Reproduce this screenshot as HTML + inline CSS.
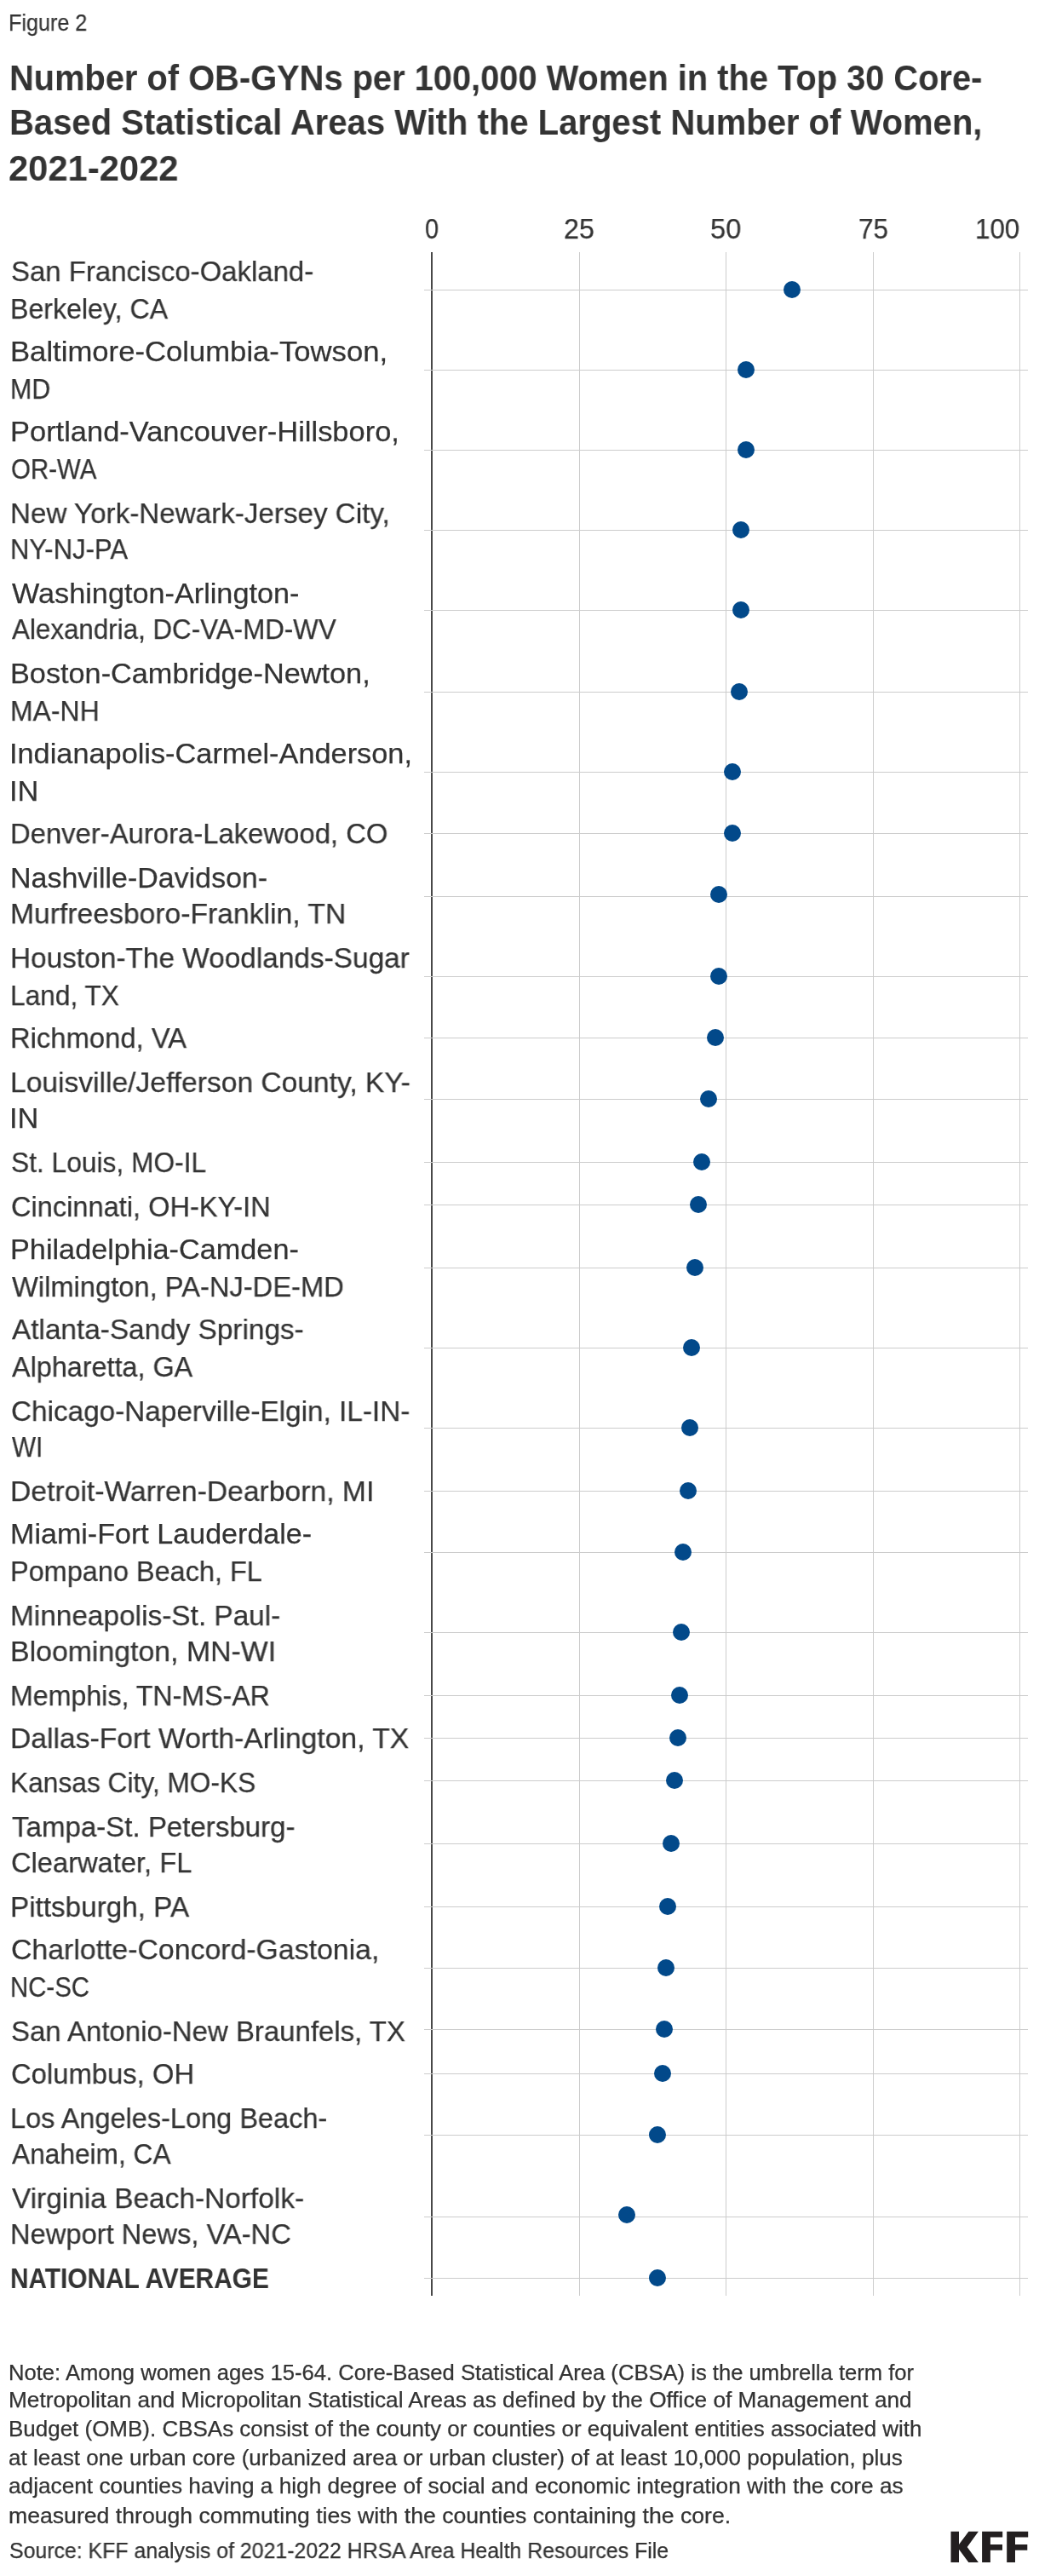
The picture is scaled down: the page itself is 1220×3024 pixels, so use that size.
<!DOCTYPE html>
<html><head><meta charset="utf-8"><title>Figure 2</title>
<style>
html,body{margin:0;padding:0;background:#fff}
body{width:1220px;height:3024px;position:relative;overflow:hidden;font-family:"Liberation Sans",sans-serif;color:#333}
.t{position:absolute;white-space:nowrap;line-height:1;transform-origin:0 0;will-change:transform;-webkit-text-stroke:0.25px #333}
.b{-webkit-text-stroke:0}
.ax{position:absolute;background:#484848}
.vg{position:absolute;top:296px;width:1px;height:2399px;background:#ccc}
.hg{position:absolute;left:498px;width:709px;height:1px;background:#ccc}
.dot{position:absolute;width:20px;height:20px;border-radius:50%;background:#02498a}
</style></head><body>
<div class="ax" style="left:506px;top:296px;width:2px;height:2399px"></div>
<div class="vg" style="left:680px"></div>
<div class="vg" style="left:852px"></div>
<div class="vg" style="left:1025px"></div>
<div class="vg" style="left:1197px"></div>
<div class="hg" style="top:340px"></div>
<div class="hg" style="top:434px"></div>
<div class="hg" style="top:528px"></div>
<div class="hg" style="top:622px"></div>
<div class="hg" style="top:716px"></div>
<div class="hg" style="top:812px"></div>
<div class="hg" style="top:906px"></div>
<div class="hg" style="top:978px"></div>
<div class="hg" style="top:1052px"></div>
<div class="hg" style="top:1146px"></div>
<div class="hg" style="top:1218px"></div>
<div class="hg" style="top:1290px"></div>
<div class="hg" style="top:1364px"></div>
<div class="hg" style="top:1414px"></div>
<div class="hg" style="top:1488px"></div>
<div class="hg" style="top:1582px"></div>
<div class="hg" style="top:1676px"></div>
<div class="hg" style="top:1750px"></div>
<div class="hg" style="top:1822px"></div>
<div class="hg" style="top:1916px"></div>
<div class="hg" style="top:1990px"></div>
<div class="hg" style="top:2040px"></div>
<div class="hg" style="top:2090px"></div>
<div class="hg" style="top:2164px"></div>
<div class="hg" style="top:2238px"></div>
<div class="hg" style="top:2310px"></div>
<div class="hg" style="top:2382px"></div>
<div class="hg" style="top:2434px"></div>
<div class="hg" style="top:2506px"></div>
<div class="hg" style="top:2602px"></div>
<div class="hg" style="top:2674px"></div>
<div class="dot" style="left:920px;top:330px"></div>
<div class="dot" style="left:866px;top:424px"></div>
<div class="dot" style="left:866px;top:518px"></div>
<div class="dot" style="left:860px;top:612px"></div>
<div class="dot" style="left:860px;top:706px"></div>
<div class="dot" style="left:858px;top:802px"></div>
<div class="dot" style="left:850px;top:896px"></div>
<div class="dot" style="left:850px;top:968px"></div>
<div class="dot" style="left:834px;top:1040px"></div>
<div class="dot" style="left:834px;top:1136px"></div>
<div class="dot" style="left:830px;top:1208px"></div>
<div class="dot" style="left:822px;top:1280px"></div>
<div class="dot" style="left:814px;top:1354px"></div>
<div class="dot" style="left:810px;top:1404px"></div>
<div class="dot" style="left:806px;top:1478px"></div>
<div class="dot" style="left:802px;top:1572px"></div>
<div class="dot" style="left:800px;top:1666px"></div>
<div class="dot" style="left:798px;top:1740px"></div>
<div class="dot" style="left:792px;top:1812px"></div>
<div class="dot" style="left:790px;top:1906px"></div>
<div class="dot" style="left:788px;top:1980px"></div>
<div class="dot" style="left:786px;top:2030px"></div>
<div class="dot" style="left:782px;top:2080px"></div>
<div class="dot" style="left:778px;top:2154px"></div>
<div class="dot" style="left:774px;top:2228px"></div>
<div class="dot" style="left:772px;top:2300px"></div>
<div class="dot" style="left:770px;top:2372px"></div>
<div class="dot" style="left:768px;top:2424px"></div>
<div class="dot" style="left:762px;top:2496px"></div>
<div class="dot" style="left:726px;top:2590px"></div>
<div class="dot" style="left:762px;top:2664px"></div>
<div class="t" style="left:13.03px;top:300.90px;font-size:34px;transform:scaleX(0.9690)">San Francisco-Oakland-</div>
<div class="t" style="left:12.11px;top:344.70px;font-size:34px;transform:scaleX(0.9448)">Berkeley, CA</div>
<div class="t" style="left:11.96px;top:395.30px;font-size:34px;transform:scaleX(1.0195)">Baltimore-Columbia-Towson,</div>
<div class="t" style="left:12.21px;top:439.10px;font-size:34px;transform:scaleX(0.8940)">MD</div>
<div class="t" style="left:11.97px;top:489.10px;font-size:34px;transform:scaleX(1.0130)">Portland-Vancouver-Hillsboro,</div>
<div class="t" style="left:13.13px;top:532.90px;font-size:34px;transform:scaleX(0.8661)">OR-WA</div>
<div class="t" style="left:12.05px;top:585.00px;font-size:34px;transform:scaleX(0.9761)">New York-Newark-Jersey City,</div>
<div class="t" style="left:12.17px;top:627.30px;font-size:34px;transform:scaleX(0.9134)">NY-NJ-PA</div>
<div class="t" style="left:14.00px;top:679.10px;font-size:34px;transform:scaleX(1.0069)">Washington-Arlington-</div>
<div class="t" style="left:14.00px;top:721.20px;font-size:34px;transform:scaleX(0.9215)">Alexandria, DC-VA-MD-WV</div>
<div class="t" style="left:11.99px;top:773.00px;font-size:34px;transform:scaleX(1.0075)">Boston-Cambridge-Newton,</div>
<div class="t" style="left:12.12px;top:817.30px;font-size:34px;transform:scaleX(0.9393)">MA-NH</div>
<div class="t" style="left:10.97px;top:866.90px;font-size:34px;transform:scaleX(1.0091)">Indianapolis-Carmel-Anderson,</div>
<div class="t" style="left:10.97px;top:911.20px;font-size:34px;transform:scaleX(1.0103)">IN</div>
<div class="t" style="left:12.07px;top:961.10px;font-size:34px;transform:scaleX(0.9656)">Denver-Aurora-Lakewood, CO</div>
<div class="t" style="left:12.00px;top:1012.90px;font-size:34px;transform:scaleX(0.9993)">Nashville-Davidson-</div>
<div class="t" style="left:12.02px;top:1055.00px;font-size:34px;transform:scaleX(0.9904)">Murfreesboro-Franklin, TN</div>
<div class="t" style="left:12.04px;top:1106.70px;font-size:34px;transform:scaleX(0.9817)">Houston-The Woodlands-Sugar</div>
<div class="t" style="left:12.14px;top:1151.00px;font-size:34px;transform:scaleX(0.9304)">Land, TX</div>
<div class="t" style="left:12.07px;top:1200.70px;font-size:34px;transform:scaleX(0.9643)">Richmond, VA</div>
<div class="t" style="left:12.02px;top:1252.90px;font-size:34px;transform:scaleX(0.9879)">Louisville/Jefferson County, KY-</div>
<div class="t" style="left:10.97px;top:1294.60px;font-size:34px;transform:scaleX(1.0103)">IN</div>
<div class="t" style="left:13.07px;top:1347.00px;font-size:34px;transform:scaleX(0.9328)">St. Louis, MO-IL</div>
<div class="t" style="left:13.04px;top:1398.80px;font-size:34px;transform:scaleX(0.9578)">Cincinnati, OH-KY-IN</div>
<div class="t" style="left:11.99px;top:1448.90px;font-size:34px;transform:scaleX(1.0072)">Philadelphia-Camden-</div>
<div class="t" style="left:14.00px;top:1492.80px;font-size:34px;transform:scaleX(0.9611)">Wilmington, PA-NJ-DE-MD</div>
<div class="t" style="left:14.00px;top:1542.60px;font-size:34px;transform:scaleX(0.9802)">Atlanta-Sandy Springs-</div>
<div class="t" style="left:14.00px;top:1586.80px;font-size:34px;transform:scaleX(0.9516)">Alpharetta, GA</div>
<div class="t" style="left:13.02px;top:1638.50px;font-size:34px;transform:scaleX(0.9796)">Chicago-Naperville-Elgin, IL-IN-</div>
<div class="t" style="left:14.00px;top:1680.70px;font-size:34px;transform:scaleX(0.8744)">WI</div>
<div class="t" style="left:12.02px;top:1733.00px;font-size:34px;transform:scaleX(0.9906)">Detroit-Warren-Dearborn, MI</div>
<div class="t" style="left:12.00px;top:1782.90px;font-size:34px;transform:scaleX(1.0023)">Miami-Fort Lauderdale-</div>
<div class="t" style="left:12.09px;top:1827.00px;font-size:34px;transform:scaleX(0.9544)">Pompano Beach, FL</div>
<div class="t" style="left:12.04px;top:1879.00px;font-size:34px;transform:scaleX(0.9819)">Minneapolis-St. Paul-</div>
<div class="t" style="left:12.01px;top:1920.90px;font-size:34px;transform:scaleX(0.9951)">Bloomington, MN-WI</div>
<div class="t" style="left:12.11px;top:1972.90px;font-size:34px;transform:scaleX(0.9458)">Memphis, TN-MS-AR</div>
<div class="t" style="left:12.02px;top:2023.20px;font-size:34px;transform:scaleX(0.9900)">Dallas-Fort Worth-Arlington, TX</div>
<div class="t" style="left:12.14px;top:2075.10px;font-size:34px;transform:scaleX(0.9324)">Kansas City, MO-KS</div>
<div class="t" style="left:14.00px;top:2126.90px;font-size:34px;transform:scaleX(0.9721)">Tampa-St. Petersburg-</div>
<div class="t" style="left:13.04px;top:2168.90px;font-size:34px;transform:scaleX(0.9603)">Clearwater, FL</div>
<div class="t" style="left:12.04px;top:2221.20px;font-size:34px;transform:scaleX(0.9779)">Pittsburgh, PA</div>
<div class="t" style="left:13.01px;top:2270.80px;font-size:34px;transform:scaleX(0.9947)">Charlotte-Concord-Gastonia,</div>
<div class="t" style="left:12.27px;top:2314.80px;font-size:34px;transform:scaleX(0.8644)">NC-SC</div>
<div class="t" style="left:13.03px;top:2367.00px;font-size:34px;transform:scaleX(0.9695)">San Antonio-New Braunfels, TX</div>
<div class="t" style="left:13.04px;top:2416.90px;font-size:34px;transform:scaleX(0.9645)">Columbus, OH</div>
<div class="t" style="left:12.09px;top:2469.10px;font-size:34px;transform:scaleX(0.9560)">Los Angeles-Long Beach-</div>
<div class="t" style="left:14.00px;top:2511.00px;font-size:34px;transform:scaleX(0.9313)">Anaheim, CA</div>
<div class="t" style="left:14.00px;top:2562.80px;font-size:34px;transform:scaleX(0.9830)">Virginia Beach-Norfolk-</div>
<div class="t" style="left:12.08px;top:2605.10px;font-size:34px;transform:scaleX(0.9609)">Newport News, VA-NC</div>
<div class="t b" style="left:12.25px;top:2657.10px;font-size:34px;font-weight:bold;transform:scaleX(0.8770)">NATIONAL AVERAGE</div>
<div class="t b" style="left:11.00px;top:71.30px;font-size:42px;font-weight:bold;transform:scaleX(0.9480)">Number of OB-GYNs per 100,000 Women in the Top 30 Core-</div>
<div class="t b" style="left:11.39px;top:123.30px;font-size:42px;font-weight:bold;transform:scaleX(0.9526)">Based Statistical Areas With the Largest Number of Women,</div>
<div class="t b" style="left:10.31px;top:176.60px;font-size:42px;font-weight:bold;transform:scaleX(0.9930)">2021-2022</div>
<div class="t" style="left:10.05px;top:2772.55px;font-size:25px;transform:scaleX(1.0242)">Note: Among women ages 15-64. Core-Based Statistical Area (CBSA) is the umbrella term for</div>
<div class="t" style="left:10.00px;top:2805.25px;font-size:25px;transform:scaleX(1.0489)">Metropolitan and Micropolitan Statistical Areas as defined by the Office of Management and</div>
<div class="t" style="left:10.02px;top:2838.75px;font-size:25px;transform:scaleX(1.0388)">Budget (OMB). CBSAs consist of the county or counties or equivalent entities associated with</div>
<div class="t" style="left:10.46px;top:2872.65px;font-size:25px;transform:scaleX(1.0419)">at least one urban core (urbanized area or urban cluster) of at least 10,000 population, plus</div>
<div class="t" style="left:10.45px;top:2906.45px;font-size:25px;transform:scaleX(1.0485)">adjacent counties having a high degree of social and economic integration with the core as</div>
<div class="t" style="left:10.43px;top:2940.55px;font-size:25px;transform:scaleX(1.0652)">measured through commuting ties with the counties containing the core.</div>
<div class="t" style="left:10.51px;top:2981.95px;font-size:25px;transform:scaleX(0.9947)">Source: KFF analysis of 2021-2022 HRSA Area Health Resources File</div>
<div class="t" style="left:10.24px;top:14.05px;font-size:27px;transform:scaleX(0.9323)">Figure 2</div>
<div class="t" style="left:499.25px;top:251.30px;font-size:34px;transform:scaleX(0.8529)">0</div>
<div class="t" style="left:661.55px;top:251.30px;font-size:34px;transform:scaleX(0.9472)">25</div>
<div class="t" style="left:834.24px;top:251.30px;font-size:34px;transform:scaleX(0.9583)">50</div>
<div class="t" style="left:1008.08px;top:251.30px;font-size:34px;transform:scaleX(0.9222)">75</div>
<div class="t" style="left:1144.66px;top:251.30px;font-size:34px;transform:scaleX(0.9204)">100</div>
<svg style="position:absolute;left:0;top:0" width="1220" height="3024" viewBox="0 0 1220 3024">
<g fill="#231f20">
<polygon points="1116.5,2971.7 1126,2971.7 1126,2987.1 1137.4,2971.7 1148.9,2971.7 1135.7,2990 1148.9,3008.1 1137.3,3008.1 1126,2992.7 1126,3008.1 1116.5,3008.1"/>
<polygon points="1153.1,2971.7 1177.2,2971.7 1177.2,2978.4 1162.9,2978.4 1162.9,2987 1177,2987 1177,2993.7 1162.9,2993.7 1162.9,3008.1 1153.1,3008.1"/>
<polygon points="1182.2,2971.7 1207.2,2971.7 1207.2,2978.4 1192,2978.4 1192,2987 1206.3,2987 1206.3,2993.7 1192,2993.7 1192,3008.1 1182.2,3008.1"/>
</g></svg>
</body></html>
